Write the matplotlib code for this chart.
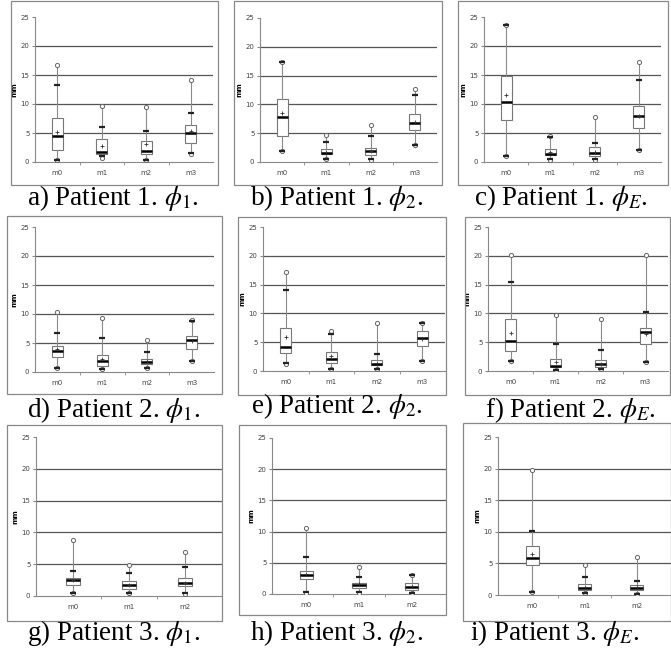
import matplotlib
matplotlib.use("Agg")
import matplotlib.pyplot as plt
from matplotlib.patches import Rectangle

plt.rcParams['mathtext.fontset'] = 'stix'

W, H = 671, 650

captions = [r"a) Patient 1. $\phi_1$.", r"b) Patient 1. $\phi_2$.", r"c) Patient 1. $\phi_E$.",
            r"d) Patient 2. $\phi_1$.", r"e) Patient 2. $\phi_2$.", r"f) Patient 2. $\phi_E$.",
            r"g) Patient 3. $\phi_1$.", r"h) Patient 3. $\phi_2$.", r"i) Patient 3. $\phi_E$."]
categories4 = ["m0", "m1", "m2", "m3"]
categories3 = ["m0", "m1", "m2"]
yticks = [0, 5, 10, 15, 20, 25]

# statistics per panel (a..i), per method
q1 = [[2.0, 1.3, 1.3, 3.3], [4.45, 1.4, 1.15, 5.6], [7.25, 1.15, 1.0, 5.9],
      [2.65, 1.1, 1.35, 3.9], [3.1, 1.35, 1.05, 4.3], [3.5, 0.65, 0.75, 4.7],
      [1.8, 1.15, 1.5], [2.4, 0.9, 0.65], [4.7, 0.85, 0.85]]
med = [[4.4, 1.7, 1.95, 5.0], [7.75, 1.55, 1.85, 6.8], [10.4, 1.45, 1.5, 7.9],
       [3.6, 1.9, 1.75, 5.5], [4.1, 2.1, 1.25, 5.8], [5.25, 0.9, 1.15, 6.7],
       [2.45, 1.75, 2.0], [3.0, 1.45, 1.1], [5.8, 1.1, 1.15]]
q3 = [[7.6, 4.0, 3.6, 6.4], [10.9, 2.2, 2.45, 8.35], [14.9, 2.25, 2.6, 9.6],
      [4.5, 3.0, 2.3, 6.25], [7.55, 3.3, 1.85, 6.9], [9.1, 2.15, 1.95, 7.45],
      [2.9, 2.35, 2.9], [3.7, 1.75, 1.7], [7.7, 1.7, 1.55]]
mean = [[5.1, 2.8, 3.05, 5.3], [8.5, 1.75, 1.85, 6.9], [11.5, 1.65, 1.65, 7.9],
        [4.05, 2.3, 1.85, 5.4], [5.85, 2.55, 1.4, 5.6], [6.65, 1.6, 1.3, 6.45],
        [2.45, 1.8, 2.05], [3.2, 1.55, 1.25], [6.5, 1.2, 1.2]]
vmin = [[0.3, 0.7, 0.35, 1.4], [1.95, 0.45, 0.4, 2.9], [1.1, 0.4, 0.4, 2.0],
        [0.7, 0.5, 0.7, 1.9], [1.3, 0.35, 0.35, 1.8], [1.75, 0.2, 0.3, 1.6],
        [0.47, 0.4, 0.35], [0.2, 0.2, 0.15], [0.4, 0.25, 0.1]]
vmax = [[16.8, 9.7, 9.5, 14.1], [17.3, 4.75, 6.5, 12.6], [23.7, 4.4, 7.75, 17.2],
        [10.3, 9.35, 5.5, 8.95], [17.15, 7.0, 8.25, 8.4], [20.2, 9.7, 8.95, 20.2],
        [8.8, 4.85, 6.9], [10.5, 4.4, 3.0], [19.7, 4.75, 6.05]]
p_hi = [[13.2, 6.0, 5.3, 8.4], [17.3, 3.5, 4.45, 11.7], [23.7, 4.25, 3.3, 14.2],
        [6.75, 5.8, 3.5, 8.8], [14.0, 6.4, 3.0, 8.3], [15.5, 4.7, 3.6, 10.3],
        [3.95, 3.65, 4.6], [5.9, 2.8, 3.0], [10.1, 2.85, 2.2]]
p_lo = [[0.35, 1.0, 0.4, 1.5], [1.95, 0.5, 0.45, 2.9], [1.1, 0.45, 0.45, 2.0],
        [0.75, 0.55, 0.75, 1.9], [1.35, 0.4, 0.4, 1.8], [1.75, 0.25, 0.35, 1.6],
        [0.5, 0.45, 0.4], [0.25, 0.25, 0.2], [0.45, 0.3, 0.15]]

# layout in pixels: axes (left, right, top, bottom), frame (left, right, top, bottom), caption (x, baseline)
axes_px = [(35, 213, 17, 162), (260, 437, 18, 162), (484, 661, 17, 162),
           (35, 214, 227, 372), (263, 445, 227, 371), (488, 668, 227, 371),
           (36, 222, 437, 596), (272, 446, 438, 594), (498, 671, 437, 595)]
frames_px = [(11, 218, 1, 185), (234, 442, 1, 185), (458, 668, 1, 185),
             (7, 222, 216, 394), (238, 446, 217, 395), (465, 670, 217, 395),
             (7, 222, 425, 621), (239, 446, 425, 615), (463, 671, 423, 621)]
cap_px = [(113, 205), (337, 205), (561, 205),
          (114, 417), (337, 413), (570, 417),
          (114, 640), (337, 640), (555, 640)]

fig = plt.figure(figsize=(W / 100, H / 100), dpi=100)

for k in range(9):
    l, r, t, b = axes_px[k]
    ax = fig.add_axes([l / W, 1 - b / H, (r - l) / W, (b - t) / H])
    n = len(q1[k])
    cats = categories4 if n == 4 else categories3
    stats = []
    for j in range(n):
        stats.append(dict(med=med[k][j], q1=q1[k][j], q3=q3[k][j], mean=mean[k][j],
                          whislo=vmin[k][j], whishi=vmax[k][j], fliers=[]))
    pos = list(range(n))
    for yv in yticks[1:-1]:
        ax.axhline(yv, color='#555555', lw=0.9, zorder=0)
    ax.bxp(stats, positions=pos, widths=0.25, showcaps=False, showmeans=True,
           patch_artist=True,
           boxprops=dict(facecolor='white', edgecolor='#777777', lw=0.8),
           whiskerprops=dict(color='#8a8a8a', lw=0.8),
           medianprops=dict(color='black', lw=1.8),
           meanprops=dict(marker='+', markeredgecolor='#333333', markersize=3.5, markeredgewidth=0.6),
           zorder=2)
    ax.plot(pos, vmax[k], ls='none', marker='o', ms=3, mfc='white', mec='#666666', mew=0.7, zorder=3)
    ax.plot(pos, vmin[k], ls='none', marker='o', ms=3, mfc='white', mec='#666666', mew=0.7, zorder=3)
    ax.plot(pos, p_hi[k], ls='none', marker='_', ms=5, mec='#222222', mew=1.6, zorder=4)
    ax.plot(pos, p_lo[k], ls='none', marker='_', ms=5, mec='#222222', mew=1.6, zorder=4)
    if n == 4:
        ax.set_xlim(-0.5, 3.5)
    else:
        ax.set_xlim(-0.65, 2.65)
    ax.set_ylim(0, 25)
    ax.set_yticks(yticks)
    ax.set_yticklabels([str(v) for v in yticks])
    ax.set_xticks(pos)
    ax.set_xticklabels(cats)
    ax.set_xticks([p + 0.5 for p in pos[:-1]], minor=True)
    ax.tick_params(axis='x', which='major', length=0, labelsize=5, labelcolor='#444444', pad=6)
    ax.tick_params(axis='x', which='minor', length=2, color='#888888', direction='out')
    ax.tick_params(axis='y', length=2, color='#888888', labelsize=5, labelcolor='#444444', pad=2)
    for s in ['top', 'right']:
        ax.spines[s].set_visible(False)
    for s in ['left', 'bottom']:
        ax.spines[s].set_color('#888888')
        ax.spines[s].set_linewidth(0.8)
    ax.set_ylabel('mm', fontsize=5, fontweight='bold', labelpad=2)
    ax.patch.set_alpha(0)

    fl, fr, ft, fb = frames_px[k]
    fig.patches.append(Rectangle((fl / W, 1 - fb / H), (fr - fl) / W, (fb - ft) / H,
                                 transform=fig.transFigure, fill=False,
                                 edgecolor='#888888', lw=0.9, zorder=0))
    cx, cy = cap_px[k]
    fig.text(cx / W, 1 - cy / H, captions[k], ha='center', va='baseline',
             fontsize=19.5, family='Liberation Serif')

fig.savefig('out.png', dpi=100)
